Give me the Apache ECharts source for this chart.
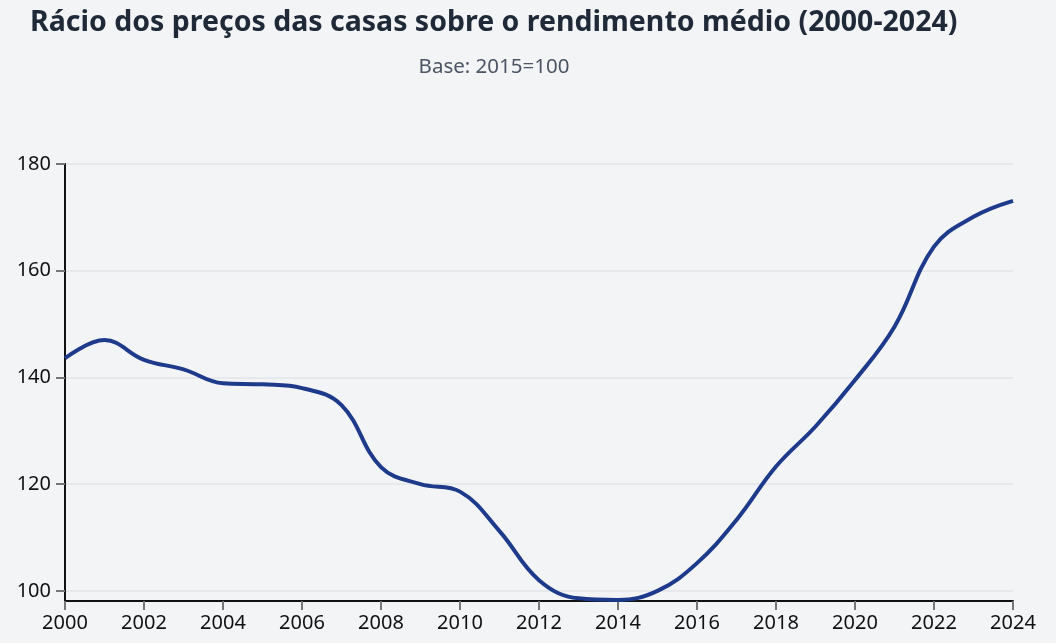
<!DOCTYPE html>
<html>
<head>
<meta charset="utf-8">
<script src="https://cdn.jsdelivr.net/npm/echarts@6/dist/echarts.min.js"></script>
<style>
html,body{margin:0;padding:0;background:#f3f4f6;}
#chart{width:1056px;height:643px;}
</style>
</head>
<body>
<div id="chart"></div>
<script>
var years = [2000,2001,2002,2003,2004,2005,2006,2007,2008,2009,2010,2011,2012,2013,2014,2015,2016,2017,2018,2019,2020,2021,2022,2023,2024];
var ratio = [143.6,147.0,143.3,141.5,138.9,138.7,138.0,134.8,123.2,120.0,118.6,111.2,102.0,98.6,98.3,100.0,105.2,113.3,123.3,130.8,139.5,149.5,164.5,170.1,173.1];
var yTicks = [100,120,140,160,180];
var xTicks = [2000,2002,2004,2006,2008,2010,2012,2014,2016,2018,2020,2022,2024];

var chart = echarts.init(document.getElementById('chart'));
chart.setOption({
  backgroundColor: '#f3f4f6',
  title: [{
    text: 'Rácio dos preços das casas sobre o rendimento médio (2000-2024)',
    left: 25, top: 3,
    textStyle: {fontFamily: 'Noto Sans', fontWeight: 'bold', fontSize: 28.5, color: '#1f2937'}
  },{
    text: 'Base: 2015=100',
    left: 489, top: 52, textAlign: 'center',
    textStyle: {fontFamily: 'Noto Sans', fontWeight: 'normal', fontSize: 20.5, color: '#4b5563'}
  }],
  grid: {left: 65, right: 43, top: 164, bottom: 42, containLabel: false},
  xAxis: {
    type: 'value', min: 2000, max: 2024, interval: 2,
    axisLine: {show: true, lineStyle: {color: '#111', width: 2}},
    axisTick: {show: true, length: 9, lineStyle: {color: '#777', width: 2}},
    axisLabel: {color: '#111', fontSize: 20, fontFamily: 'Noto Sans', margin: 12,
      formatter: function(v){ return xTicks.indexOf(v) >= 0 ? String(v) : ''; }},
    splitLine: {show: false}
  },
  yAxis: {
    type: 'value', min: 98.1, max: 180,
    axisLine: {show: true, lineStyle: {color: '#111', width: 2}},
    axisTick: {show: true, length: 9, lineStyle: {color: '#777', width: 2}},
    axisLabel: {color: '#111', fontSize: 20, fontFamily: 'Noto Sans', margin: 14, showMinLabel: false,
      formatter: function(v){ return yTicks.indexOf(v) >= 0 ? String(v) : ''; }},
    splitLine: {show: true, lineStyle: {color: '#e2e4e8', width: 1.5}}
  },
  series: [{
    type: 'line',
    data: years.map(function(y, i){ return [y, ratio[i]]; }),
    smooth: 0.4,
    showSymbol: false,
    lineStyle: {color: '#1e3a8a', width: 4},
    clip: false
  }],
  animation: false
});
</script>
</body>
</html>
